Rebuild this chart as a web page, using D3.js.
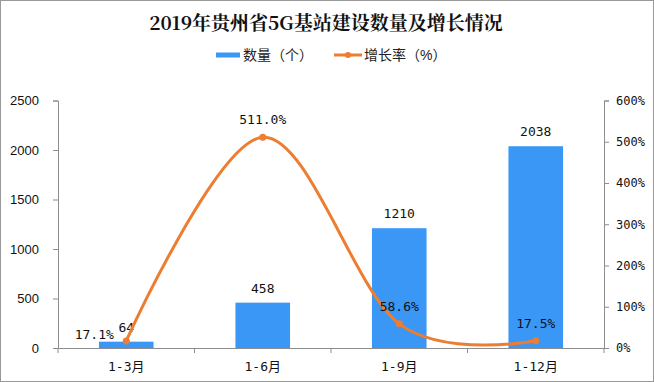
<!DOCTYPE html>
<html><head><meta charset="utf-8">
<script src="https://cdn.jsdelivr.net/npm/d3@7"></script>
<style>body{margin:0;background:#fff}svg{display:block}</style>
</head><body>
<svg id="c" width="654" height="382"></svg>
<script>
const categories = ["1-3月", "1-6月", "1-9月", "1-12月"];
const counts = [64, 458, 1210, 2038];
const growth = [17.1, 511.0, 58.6, 17.5];
const countTicks = [0, 500, 1000, 1500, 2000, 2500];
const growthTicks = [0, 100, 200, 300, 400, 500, 600];
const titleText = "2019年贵州省5G基站建设数量及增长情况";
const legendLabels = ["数量（个）", "增长率（%）"];

const W = 654, H = 382;
const m = {l: 58, r: 50, t: 100.5, b: 34};
const svg = d3.select("#c");
const BLUE = "#3A97F6", ORANGE = "#ED7D31", AX = "#8c8c8c";
const mono = "'DejaVu Sans Mono','Noto Sans CJK SC',monospace";
const sans = "'Liberation Sans','Noto Sans CJK SC',sans-serif";

svg.append("rect").attr("x",0.5).attr("y",0.5).attr("width",W-1).attr("height",H-1)
  .attr("fill","#fff").attr("stroke","#999");

const x = d3.scaleBand().domain(categories).range([m.l, W - m.r]).paddingInner(0.6).paddingOuter(0.3);
const xb = d3.scaleBand().domain(categories).range([m.l, W - m.r]);
const y = d3.scaleLinear().domain([0, 2500]).range([H - m.b, m.t]);
const y2 = d3.scaleLinear().domain([0, 600]).range([H - m.b, m.t]);

// title
svg.append("text").attr("x", 326).attr("y", 30).attr("text-anchor","middle")
  .attr("font-family","'Noto Serif CJK SC','Noto Sans CJK SC',serif").attr("font-weight","bold")
  .attr("font-size", 19).attr("fill","#111").text(titleText);

// legend
svg.append("rect").attr("x",216).attr("y",52.5).attr("width",24).attr("height",5).attr("fill",BLUE);
svg.append("text").attr("x",243).attr("y",60).attr("font-family",sans).attr("font-size",14)
  .attr("fill","#222").text(legendLabels[0]);
svg.append("line").attr("x1",334).attr("x2",362).attr("y1",55).attr("y2",55)
  .attr("stroke",ORANGE).attr("stroke-width",3);
svg.append("circle").attr("cx",348).attr("cy",55).attr("r",3).attr("fill",ORANGE);
svg.append("text").attr("x",364).attr("y",60).attr("font-family",sans).attr("font-size",14)
  .attr("fill","#222").text(legendLabels[1]);

// axes
const gl = svg.append("g").attr("transform",`translate(${m.l},0)`)
  .call(d3.axisLeft(y).tickValues(countTicks).tickSize(5).tickPadding(14).tickFormat(d3.format("d")));
const gr = svg.append("g").attr("transform",`translate(${W - m.r},0)`)
  .call(d3.axisRight(y2).tickValues(growthTicks).tickSize(5).tickPadding(7).tickFormat(d => d + "%"));
const gx = svg.append("g").attr("transform",`translate(0,${H - m.b})`)
  .call(d3.axisBottom(xb).tickSize(0).tickPadding(14));
[gl, gr, gx].forEach(g => {
  g.select(".domain").attr("stroke", AX);
  g.selectAll(".tick line").attr("stroke", AX);
  g.selectAll("text").attr("fill","#111");
});
gl.selectAll("text").attr("font-family",sans).attr("font-size",13);
gr.selectAll("text").attr("font-family",mono).attr("font-size",12);
gx.selectAll("text").attr("font-family",mono).attr("font-size",13);
// category boundary ticks
gx.selectAll(".bnd").data(categories.map(c => xb(c)).concat([W - m.r])).enter()
  .append("line").attr("x1",d=>d).attr("x2",d=>d).attr("y1",0).attr("y2",5).attr("stroke",AX);

// bars
svg.append("g").selectAll("rect").data(counts).enter().append("rect")
  .attr("x",(d,i)=>x(categories[i])).attr("width",x.bandwidth())
  .attr("y",d=>y(d)).attr("height",d=>y(0)-y(d)).attr("fill",BLUE);
svg.append("g").selectAll("text").data(counts).enter().append("text")
  .attr("x",(d,i)=>x(categories[i]) + x.bandwidth()/2).attr("y",d=>y(d) - 10)
  .attr("text-anchor","middle").attr("font-family",mono).attr("font-size",13).attr("fill","#111")
  .text(d=>d);

// line
const cx = i => xb(categories[i]) + xb.bandwidth()/2;
const line = d3.line().x((d,i)=>cx(i)).y(d=>y2(d)).curve(d3.curveCardinal.tension(0));
svg.append("path").attr("d", line(growth)).attr("fill","none").attr("stroke",ORANGE).attr("stroke-width",3);
svg.append("g").selectAll("circle").data(growth).enter().append("circle")
  .attr("cx",(d,i)=>cx(i)).attr("cy",d=>y2(d)).attr("r",3.5).attr("fill",ORANGE);
const gLab = svg.append("g").selectAll("text").data(growth).enter().append("text")
  .attr("x",(d,i)=> i === 0 ? cx(i) - 32 : cx(i))
  .attr("y",(d,i)=> i === 0 ? y2(d) - 2 : y2(d) - 13)
  .attr("text-anchor","middle").attr("font-family",mono).attr("font-size",13).attr("fill","#111")
  .text(d=>d.toFixed(1) + "%");
</script>
</body></html>
